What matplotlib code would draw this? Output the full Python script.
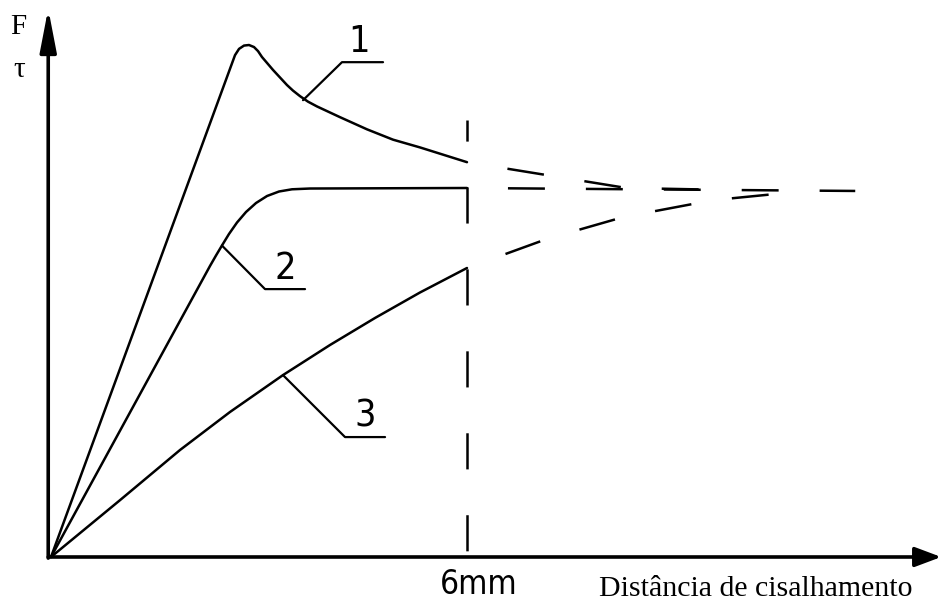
import matplotlib
matplotlib.use("Agg")
import matplotlib.pyplot as plt

plt.rcParams['lines.scale_dashes'] = False
plt.rcParams['lines.solid_capstyle'] = 'round'

# shear distance (mm) and force / shear stress (arbitrary units, plateau = 100)
curve1_x = [0.0, 2.654, 2.712, 2.784, 2.856, 2.928, 2.986, 3.043, 3.202, 3.404,
            3.490, 3.591, 3.707, 3.837, 4.168, 4.558, 4.933, 5.322, 6.0]
curve1_y = [0.0, 136.0, 137.7, 138.6, 138.75, 138.2, 137.1, 135.5, 132.0, 127.9,
            126.4, 124.9, 123.4, 122.1, 119.2, 115.9, 113.1, 111.0, 107.0]

curve2_x = [0.0, 2.293, 2.380, 2.466, 2.567, 2.683, 2.813, 2.957, 3.116, 3.289,
            3.476, 3.736, 6.0]
curve2_y = [0.0, 78.86, 81.71, 84.42, 87.53, 90.65, 93.50, 95.93, 97.83, 99.05,
            99.65, 99.86, 100.0]

curve3_x = [0.0, 0.995, 1.861, 2.582, 3.346, 4.024, 4.673, 5.322, 6.0]
curve3_y = [0.0, 15.4, 29.0, 39.3, 49.3, 57.45, 64.77, 71.68, 78.32]

# extrapolated behaviour beyond 6 mm
ext1_x = [6.0, 8.3, 9.4]
ext1_y = [107.0, 100.0, 99.6]
ext2_x = [6.0, 11.6]
ext2_y = [100.0, 99.2]
ext3_x = [6.0, 7.154, 8.25, 9.548, 10.515]
ext3_y = [78.32, 86.2, 92.1, 96.7, 98.5]

shear_limit = 6.0
labels = ['1', '2', '3']

# label anchors: point on curve, elbow of leader, text centre
leader_start = [(3.635, 123.8), (2.466, 84.4), (3.346, 49.3)]
leader_elbow = [(4.197, 134.1), (3.087, 72.6), (4.241, 32.5)]
leader_end_x = [4.789, 3.664, 4.818]
label_pos = [(4.44, 139.6), (3.375, 78.0), (4.529, 38.2)]

fig = plt.figure(figsize=(9.41, 6.05), dpi=100)
ax = fig.add_axes([0, 0, 1, 1])
ax.set_xlim(-0.7356, 12.837)
ax.set_ylim(-13.01, 150.95)
ax.axis('off')

# axes with arrowheads
ax.annotate('', xy=(12.84, 0), xytext=(-0.04, 0),
            arrowprops=dict(arrowstyle='-|>,head_length=0.8,head_width=0.3',
                            lw=2.6, color='black', mutation_scale=20,
                            shrinkA=0, shrinkB=0))
ax.annotate('', xy=(-0.04, 148.6), xytext=(-0.04, -0.3),
            arrowprops=dict(arrowstyle='-|>,head_length=1.3,head_width=0.25',
                            lw=2.6, color='black', mutation_scale=20,
                            shrinkA=0, shrinkB=0))

lw = 1.8
ax.plot(curve1_x, curve1_y, color='black', lw=lw)
ax.plot(curve2_x, curve2_y, color='black', lw=lw)
ax.plot(curve3_x, curve3_y, color='black', lw=lw)

dash = (26.6, (26.6, 29.5))
for ex, ey in [(ext1_x, ext1_y), (ext2_x, ext2_y), (ext3_x, ext3_y)]:
    ax.plot(ex, ey, color='black', lw=lw, linestyle=dash, dash_capstyle='butt')

# vertical line at 6 mm
ax.plot([shear_limit, shear_limit], [118.4, -0.5], color='black', lw=lw,
        linestyle=(10.8, (26.0, 33.0)), dash_capstyle='butt')

for lab, s, e, ux, p in zip(labels, leader_start, leader_elbow, leader_end_x, label_pos):
    ax.plot([s[0], e[0], ux], [s[1], e[1], e[1]], color='black', lw=1.6)
    ax.text(p[0], p[1], lab, ha='center', va='center', fontsize=27,
            family='DejaVu Sans', fontstretch='condensed')

ax.text(-0.469, 143.6, 'F', ha='center', va='center', fontsize=21,
        family=['Liberation Serif', 'DejaVu Serif'])
ax.text(-0.462, 132.0, 'τ', ha='center', va='center', fontsize=21,
        family=['Liberation Serif', 'DejaVu Serif'])
ax.text(6.17, -7.4, '6mm', ha='center', va='center', fontsize=24,
        family='DejaVu Sans', fontstretch='condensed')
ax.text(10.17, -8.7, 'Distância de cisalhamento', ha='center', va='center',
        fontsize=21.5, family=['Liberation Serif', 'DejaVu Serif'])

fig.savefig('out.png', dpi=100)
